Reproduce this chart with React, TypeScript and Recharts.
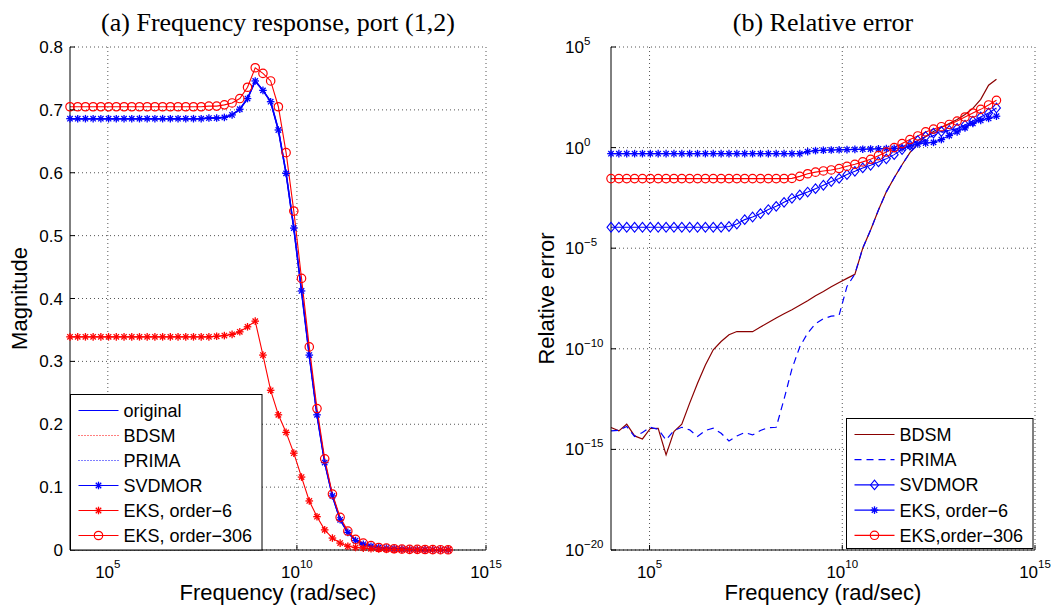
import React from "react";
import { CartesianGrid, Line, LineChart, XAxis, YAxis } from "recharts";

// frequency grid, log10(rad/sec), 50 points from 1e4 to 1e14
const logFreq = [
  4.0, 4.204, 4.408, 4.612, 4.816, 5.02, 5.224, 5.429, 5.633, 5.837,
  6.041, 6.245, 6.449, 6.653, 6.857, 7.061, 7.265, 7.469, 7.673, 7.878,
  8.082, 8.286, 8.49, 8.694, 8.898, 9.102, 9.306, 9.51, 9.714, 9.918,
  10.122, 10.327, 10.531, 10.735, 10.939, 11.143, 11.347, 11.551, 11.755, 11.959,
  12.163, 12.367, 12.571, 12.776, 12.98, 13.184, 13.388, 13.592, 13.796, 14.0
];

// (a) magnitude |H12|
const magOriginal = [
  0.686, 0.686, 0.686, 0.686, 0.686, 0.686, 0.686, 0.686, 0.686, 0.686,
  0.686, 0.686, 0.686, 0.686, 0.686, 0.686, 0.686, 0.686, 0.687, 0.687,
  0.688, 0.692, 0.701, 0.718, 0.746, 0.731, 0.713, 0.668, 0.599, 0.512,
  0.412, 0.31, 0.215, 0.139, 0.086, 0.048, 0.028, 0.015, 0.009, 0.006,
  0.004, 0.003, 0.002, 0.0015, 0.001, 0.0008, 0.0006, 0.0005, 0.0004, 0.0003
];
const magEks6 = [
  0.339, 0.339, 0.339, 0.339, 0.339, 0.339, 0.339, 0.339, 0.339, 0.339,
  0.339, 0.339, 0.339, 0.339, 0.339, 0.339, 0.339, 0.339, 0.339, 0.34,
  0.341, 0.343, 0.347, 0.355, 0.364, 0.31, 0.254, 0.215, 0.187, 0.154,
  0.116, 0.078, 0.053, 0.032, 0.019, 0.011, 0.006, 0.004, 0.003, 0.002,
  0.0015, 0.001, 0.0008, 0.0006, 0.0005, 0.0004, 0.0003, 0.0003, 0.0002, 0.0002
];
const magEks306 = [
  0.705, 0.705, 0.705, 0.705, 0.705, 0.705, 0.705, 0.705, 0.705, 0.705,
  0.705, 0.705, 0.705, 0.705, 0.705, 0.705, 0.705, 0.705, 0.706, 0.706,
  0.708, 0.711, 0.718, 0.736, 0.767, 0.758, 0.746, 0.705, 0.632, 0.539,
  0.432, 0.323, 0.225, 0.145, 0.089, 0.052, 0.03, 0.017, 0.011, 0.007,
  0.004, 0.003, 0.002, 0.0015, 0.001, 0.001, 0.0008, 0.0006, 0.0005, 0.0004
];

// (b) relative error, stored as log10 values
const errBdsmExp = [
  -13.91, -14.08, -13.75, -14.33, -14.48, -13.96, -13.95, -15.27, -14.11, -13.75,
  -12.7, -11.71, -10.8, -10.05, -9.64, -9.3, -9.14, -9.15, -9.15, -8.92,
  -8.69, -8.47, -8.26, -8.06, -7.84, -7.61, -7.36, -7.15, -6.92, -6.7,
  -6.5, -6.3, -5.0, -4.1, -3.1, -2.2, -1.5, -0.85, -0.25, 0.2,
  0.55, 0.8, 1.0, 1.2, 1.4, 1.65, 1.95, 2.4, 3.1, 3.4
];
const errPrimaExp = [
  -14.08, -14.05, -13.86, -14.36, -14.16, -13.9, -14.0, -14.53, -14.06, -13.9,
  -14.03, -14.36, -14.06, -13.95, -14.2, -14.58, -14.33, -14.16, -14.28, -14.06,
  -13.92, -13.9, -12.5, -11.0, -9.9, -9.22, -8.75, -8.5, -8.38, -8.33,
  -6.9, -6.28, -5.0, -4.1, -3.1, -2.2, -1.5, -0.85, -0.25, 0.15,
  0.4, 0.6, 0.75, 0.82, 0.9, 1.05, 1.25, 1.45, 1.65, 1.9
];
const errSvdmorExp = [
  -3.96, -3.96, -3.96, -3.96, -3.96, -3.96, -3.96, -3.96, -3.96, -3.96,
  -3.96, -3.96, -3.96, -3.96, -3.96, -3.92, -3.8, -3.58, -3.45, -3.28,
  -3.08, -2.92, -2.72, -2.52, -2.35, -2.21, -2.04, -1.87, -1.69, -1.53,
  -1.34, -1.18, -1.01, -0.88, -0.71, -0.56, -0.35, -0.1, 0.12, 0.35,
  0.55, 0.72, 0.8, 0.86, 0.95, 1.12, 1.32, 1.52, 1.72, 1.97
];
const errEks6Exp = [
  -0.3, -0.3, -0.3, -0.3, -0.3, -0.3, -0.3, -0.3, -0.3, -0.3,
  -0.3, -0.3, -0.3, -0.3, -0.3, -0.3, -0.3, -0.3, -0.3, -0.3,
  -0.3, -0.3, -0.3, -0.3, -0.3, -0.2, -0.15, -0.13, -0.12, -0.11,
  -0.1, -0.09, -0.08, -0.07, -0.06, -0.05, -0.04, -0.02, 0.08, 0.18,
  0.23, 0.26, 0.4, 0.6, 0.78, 0.98, 1.2, 1.35, 1.45, 1.56
];
const errEks306Exp = [
  -1.54, -1.54, -1.54, -1.54, -1.54, -1.54, -1.54, -1.54, -1.54, -1.54,
  -1.54, -1.54, -1.54, -1.54, -1.54, -1.54, -1.54, -1.54, -1.54, -1.54,
  -1.54, -1.54, -1.54, -1.53, -1.43, -1.3, -1.22, -1.16, -1.11, -1.04,
  -0.93, -0.83, -0.71, -0.58, -0.4, -0.22, 0.0, 0.2, 0.4, 0.58,
  0.78, 0.92, 1.04, 1.15, 1.32, 1.52, 1.72, 1.9, 2.12, 2.35
];

const xTicks = [1e5, 1e10, 1e15];
const magTicks = [0, 0.1, 0.2, 0.3, 0.4, 0.5, 0.6, 0.7, 0.8];
const errTicks = [1e-20, 1e-15, 1e-10, 1e-5, 1, 1e5];

const magRows = logFreq.map((e, i) => ({
  f: Math.pow(10, e),
  original: magOriginal[i],
  bdsm: magOriginal[i],
  prima: magOriginal[i],
  svdmor: magOriginal[i],
  eks6: magEks6[i],
  eks306: magEks306[i]
}));

const errRows = logFreq.map((e, i) => ({
  f: Math.pow(10, e),
  bdsm: Math.pow(10, errBdsmExp[i]),
  prima: Math.pow(10, errPrimaExp[i]),
  svdmor: Math.pow(10, errSvdmorExp[i]),
  eks6: Math.pow(10, errEks6Exp[i]),
  eks306: Math.pow(10, errEks306Exp[i])
}));

const BLUE = "#0000ff";
const RED = "#ff0000";
const DARKRED = "#8a0000";
const SANS = '"Liberation Sans", Arial, Helvetica, sans-serif';
const SERIF = '"Liberation Serif", "Times New Roman", serif';

type Mark = { cx: number; cy: number; color: string };

function Star({ cx, cy, color }: Mark) {
  const r = 3.8;
  const d = 2.7;
  return (
    <g stroke={color} strokeWidth={1.3} fill="none">
      <line x1={cx - r} y1={cy} x2={cx + r} y2={cy} />
      <line x1={cx} y1={cy - r} x2={cx} y2={cy + r} />
      <line x1={cx - d} y1={cy - d} x2={cx + d} y2={cy + d} />
      <line x1={cx - d} y1={cy + d} x2={cx + d} y2={cy - d} />
    </g>
  );
}

function Ring({ cx, cy, color }: Mark) {
  return <circle cx={cx} cy={cy} r={4.2} stroke={color} strokeWidth={1.2} fill="none" />;
}

function Diamond({ cx, cy, color }: Mark) {
  const pts = [
    [cx, cy - 4.8],
    [cx + 4, cy],
    [cx, cy + 4.8],
    [cx - 4, cy]
  ]
    .map((p) => p.join(","))
    .join(" ");
  return <polygon points={pts} stroke={color} strokeWidth={1.1} fill="none" />;
}

function markerDot(Shape: (m: Mark) => React.ReactElement, color: string) {
  return (p: any) => {
    if (!Number.isFinite(p.cx) || !Number.isFinite(p.cy)) return <g key={`m${p.index}`} />;
    return (
      <g key={`m${p.index}`}>
        <Shape cx={p.cx} cy={p.cy} color={color} />
      </g>
    );
  };
}

function PowerTickX(p: any) {
  const exp = Math.round(Math.log10(p.payload.value));
  return (
    <g>
      <line x1={p.x} y1={p.y} x2={p.x} y2={p.y - 5} stroke="#000" />
      <text x={p.x} y={p.y + 28} textAnchor="middle" fontSize={17} fontFamily={SANS} fill="#000">
        <tspan>10</tspan>
        <tspan dy={-10} fontSize={11.5}>{exp}</tspan>
      </text>
    </g>
  );
}

function PowerTickY(p: any) {
  const exp = Math.round(Math.log10(p.payload.value));
  const label = exp < 0 ? `\u2212${-exp}` : `${exp}`;
  return (
    <g>
      <line x1={p.x} y1={p.y} x2={p.x + 5} y2={p.y} stroke="#000" />
      <text x={p.x - 46} y={p.y + 6} textAnchor="start" fontSize={17} fontFamily={SANS} fill="#000">
        <tspan>10</tspan>
        <tspan dy={-8} fontSize={11.5}>{label}</tspan>
      </text>
    </g>
  );
}

function PlainTickY(p: any) {
  const v = Number(p.payload.value);
  return (
    <g>
      <line x1={p.x} y1={p.y} x2={p.x + 5} y2={p.y} stroke="#000" />
      <text x={p.x - 7} y={p.y + 6} textAnchor="end" fontSize={17} fontFamily={SANS} fill="#000">
        {v === 0 ? "0" : v.toFixed(1)}
      </text>
    </g>
  );
}

function MagnitudePanel() {
  return (
    <LineChart width={530} height={607} data={magRows} margin={{ top: 47, right: 44, bottom: 0, left: 0 }}>
      <CartesianGrid stroke="#555" strokeDasharray="1 3" syncWithTicks />
      <XAxis
        type="number"
        dataKey="f"
        scale="log"
        domain={[1e4, 1e15]}
        ticks={xTicks}
        interval={0}
        height={57}
        tickSize={0}
        tickMargin={0}
        tickLine={false}
        axisLine={{ stroke: "#000" }}
        tick={(p: any) => <PowerTickX {...p} />}
      />
      <YAxis
        type="number"
        domain={[0, 0.8]}
        ticks={magTicks}
        interval={0}
        width={70}
        tickSize={0}
        tickMargin={0}
        tickLine={false}
        axisLine={{ stroke: "#000" }}
        tick={(p: any) => <PlainTickY {...p} />}
      />
      <Line dataKey="original" type="linear" stroke={BLUE} strokeWidth={1.6} dot={false} isAnimationActive={false} />
      <Line dataKey="bdsm" type="linear" stroke={RED} strokeDasharray="1 2" dot={false} isAnimationActive={false} />
      <Line dataKey="prima" type="linear" stroke={BLUE} strokeDasharray="1 2" dot={false} isAnimationActive={false} />
      <Line dataKey="svdmor" type="linear" stroke={BLUE} strokeWidth={1.4} dot={markerDot(Star, BLUE)} isAnimationActive={false} />
      <Line dataKey="eks6" type="linear" stroke={RED} strokeWidth={1.1} dot={markerDot(Star, RED)} isAnimationActive={false} />
      <Line dataKey="eks306" type="linear" stroke={RED} strokeWidth={1.1} dot={markerDot(Ring, RED)} isAnimationActive={false} />
    </LineChart>
  );
}

function ErrorPanel() {
  return (
    <LineChart width={530} height={607} data={errRows} margin={{ top: 47, right: 25, bottom: 0, left: 0 }}>
      <CartesianGrid stroke="#555" strokeDasharray="1 3" syncWithTicks />
      <XAxis
        type="number"
        dataKey="f"
        scale="log"
        domain={[1e4, 1e15]}
        ticks={xTicks}
        interval={0}
        height={57}
        tickSize={0}
        tickMargin={0}
        tickLine={false}
        axisLine={{ stroke: "#000" }}
        tick={(p: any) => <PowerTickX {...p} />}
      />
      <YAxis
        type="number"
        scale="log"
        domain={[1e-20, 1e5]}
        ticks={errTicks}
        interval={0}
        width={81}
        tickSize={0}
        tickMargin={0}
        tickLine={false}
        axisLine={{ stroke: "#000" }}
        tick={(p: any) => <PowerTickY {...p} />}
      />
      <Line dataKey="bdsm" type="linear" stroke={DARKRED} strokeWidth={1.2} dot={false} isAnimationActive={false} />
      <Line dataKey="prima" type="linear" stroke={BLUE} strokeWidth={1.2} strokeDasharray="7 5" dot={false} isAnimationActive={false} />
      <Line dataKey="svdmor" type="linear" stroke={BLUE} strokeWidth={1.1} dot={markerDot(Diamond, BLUE)} isAnimationActive={false} />
      <Line dataKey="eks6" type="linear" stroke={BLUE} strokeWidth={1.1} dot={markerDot(Star, BLUE)} isAnimationActive={false} />
      <Line dataKey="eks306" type="linear" stroke={RED} strokeWidth={1.1} dot={markerDot(Ring, RED)} isAnimationActive={false} />
    </LineChart>
  );
}

type LegendItem = { label: string; color: string; dash?: string; mark?: (m: Mark) => React.ReactElement };

const leftLegend: LegendItem[] = [
  { label: "original", color: BLUE },
  { label: "BDSM", color: RED, dash: "1 2" },
  { label: "PRIMA", color: BLUE, dash: "1 2" },
  { label: "SVDMOR", color: BLUE, mark: Star },
  { label: "EKS, order\u22126", color: RED, mark: Star },
  { label: "EKS, order\u2212306", color: RED, mark: Ring }
];

const rightLegend: LegendItem[] = [
  { label: "BDSM", color: DARKRED },
  { label: "PRIMA", color: BLUE, dash: "7 5" },
  { label: "SVDMOR", color: BLUE, mark: Diamond },
  { label: "EKS, order\u22126", color: BLUE, mark: Star },
  { label: "EKS,order\u2212306", color: RED, mark: Ring }
];

function LegendBox({ x, y, w, h, items, step }: { x: number; y: number; w: number; h: number; items: LegendItem[]; step: number }) {
  return (
    <g>
      <rect x={x} y={y} width={w} height={h} fill="#fff" stroke="#000" strokeWidth={1} />
      {items.map((it, i) => {
        const cy = y + 16 + i * step;
        const Mk = it.mark;
        return (
          <g key={it.label}>
            <line x1={x + 8} y1={cy} x2={x + 48} y2={cy} stroke={it.color} strokeWidth={1.2} strokeDasharray={it.dash} />
            {Mk ? <Mk cx={x + 28} cy={cy} color={it.color} /> : null}
            <text x={x + 53} y={cy + 6.5} fontSize={18} fontFamily={SANS} fill="#000">
              {it.label}
            </text>
          </g>
        );
      })}
    </g>
  );
}

export default function App() {
  return (
    <div style={{ position: "absolute", left: 0, top: 0, width: 1060, height: 607, background: "#fff", overflow: "hidden" }}>
      <div style={{ position: "absolute", left: 0, top: 0 }}>
        <MagnitudePanel />
      </div>
      <div style={{ position: "absolute", left: 530, top: 0 }}>
        <ErrorPanel />
      </div>
      <svg width={1060} height={607} style={{ position: "absolute", left: 0, top: 0, pointerEvents: "none" }}>
        <text x={278} y={31} textAnchor="middle" fontSize={26} fontFamily={SERIF} fill="#000">
          (a) Frequency response, port (1,2)
        </text>
        <text x={823} y={31} textAnchor="middle" fontSize={26} fontFamily={SERIF} fill="#000">
          (b) Relative error
        </text>
        <text x={278} y={600} textAnchor="middle" fontSize={22} fontFamily={SANS} fill="#000">
          Frequency (rad/sec)
        </text>
        <text x={823} y={600} textAnchor="middle" fontSize={22} fontFamily={SANS} fill="#000">
          Frequency (rad/sec)
        </text>
        <text transform="translate(27,298.5) rotate(-90)" textAnchor="middle" fontSize={22} fontFamily={SANS} fill="#000">
          Magnitude
        </text>
        <text transform="translate(554,298.5) rotate(-90)" textAnchor="middle" fontSize={22} fontFamily={SANS} fill="#000">
          Relative error
        </text>
        <LegendBox x={70.5} y={394.5} w={191.5} h={155.5} items={leftLegend} step={25} />
        <LegendBox x={846.5} y={418.5} w={186.5} h={130} items={rightLegend} step={25.2} />
      </svg>
    </div>
  );
}
